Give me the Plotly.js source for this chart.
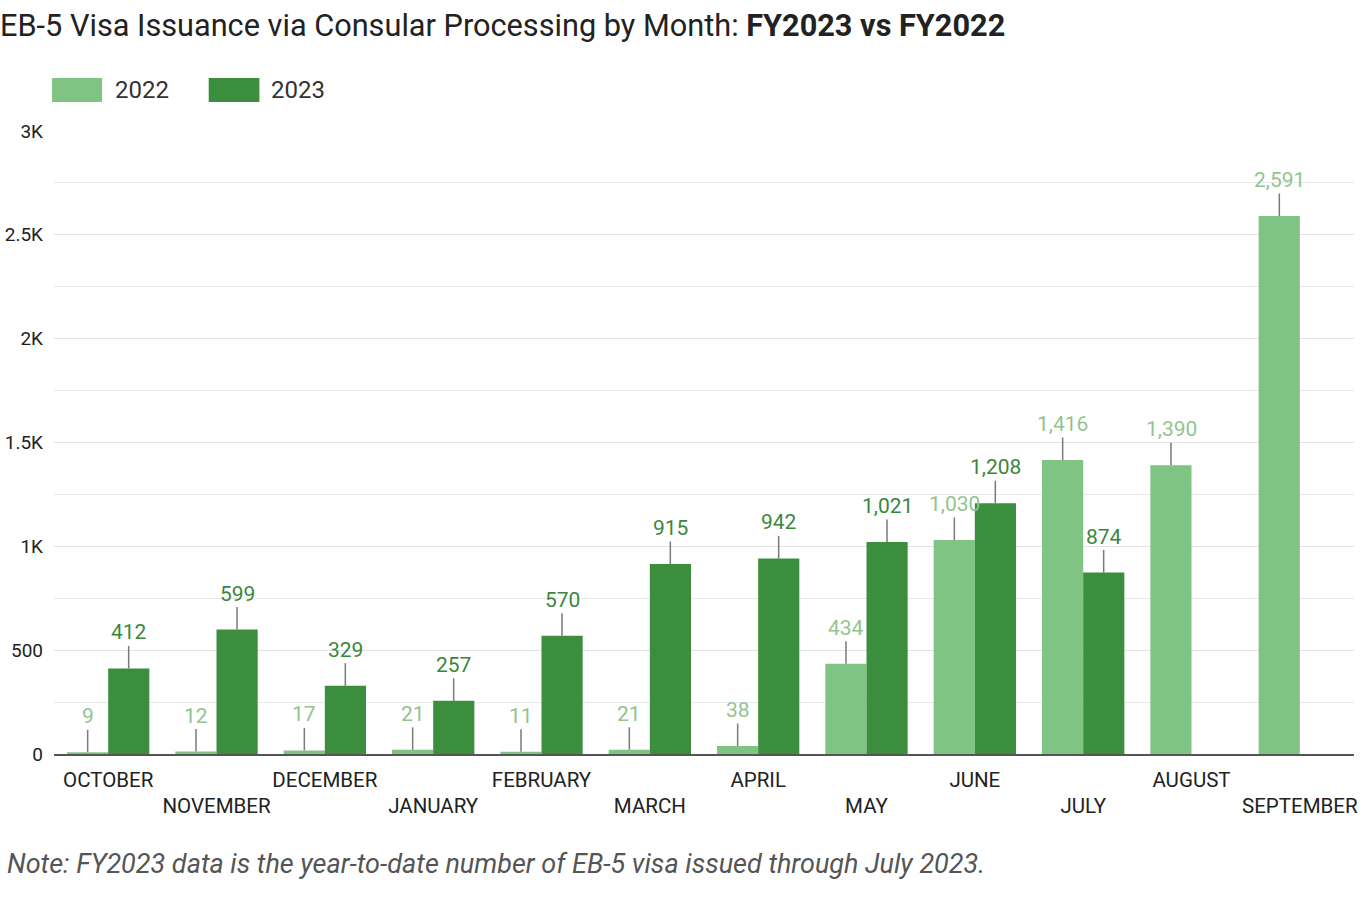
<!DOCTYPE html>
<html>
<head>
<meta charset="utf-8">
<script src="https://cdn.plot.ly/plotly-3.0.1.min.js"></script>
<style>
html,body{margin:0;padding:0;background:#fff;}
#chart{width:1366px;height:900px;}
</style>
</head>
<body>
<div id="chart"></div>
<script>
const months = ["OCTOBER","NOVEMBER","DECEMBER","JANUARY","FEBRUARY","MARCH","APRIL","MAY","JUNE","JULY","AUGUST","SEPTEMBER"];
const fy2022 = [9, 12, 17, 21, 11, 21, 38, 434, 1030, 1416, 1390, 2591];
const fy2023 = [412, 599, 329, 257, 570, 915, 942, 1021, 1208, 874, null, null];
const yTickVals = [0, 500, 1000, 1500, 2000, 2500, 3000];
const yTickText = ["0", "500", "1K", "1.5K", "2K", "2.5K", "3K"];
const seriesNames = ["2022", "2023"];

const c22 = "#80c483";
const c23 = "#3b8e3d";
const lab22 = "#93c48f";
const lab23 = "#3a873c";

const tickText = months.map((m, i) => i % 2 === 1 ? "<br>" + m : m);

const traces = [
  {type: "bar", name: seriesNames[0], x: months, y: fy2022, marker: {color: c22}, showlegend: false, hoverinfo: "x+y"},
  {type: "bar", name: seriesNames[1], x: months, y: fy2023, marker: {color: c23}, showlegend: false, hoverinfo: "x+y"}
];

const fmt = v => v.toLocaleString("en-US");
const annotations = [];
const half = 20.5;
months.forEach((m, i) => {
  [[fy2022, -half, lab22], [fy2023, half, lab23]].forEach(([arr, sh, col]) => {
    const v = arr[i];
    if (v === null || v === undefined) return;
    annotations.push({
      x: m, y: v, xref: "x", yref: "y", xshift: sh,
      text: fmt(v), showarrow: true, arrowhead: 0, arrowwidth: 1.5, arrowcolor: "#7a7a7a",
      ax: 0, ay: -36, standoff: 0, startstandoff: 0,
      font: {family: "Roboto, sans-serif", size: 21, color: col}
    });
  });
});

// legend labels
annotations.push({xref: "paper", yref: "paper", x: 0.045, y: 1.066, xanchor: "left", yanchor: "middle", showarrow: false,
  text: seriesNames[0], font: {family: "Roboto, sans-serif", size: 24, color: "#333"}});
annotations.push({xref: "paper", yref: "paper", x: 0.165, y: 1.066, xanchor: "left", yanchor: "middle", showarrow: false,
  text: seriesNames[1], font: {family: "Roboto, sans-serif", size: 24, color: "#333"}});
// note
annotations.push({xref: "paper", yref: "paper", x: -0.038, y: -0.177, xanchor: "left", yanchor: "middle", showarrow: false,
  text: "<i>Note: FY2023 data is the year-to-date number of EB-5 visa issued through July 2023.</i>",
  font: {family: "Roboto, sans-serif", size: 27, color: "#555"}});

const shapes = [
  {type: "rect", xref: "paper", yref: "paper", x0: -0.0015, x1: 0.037, y0: 1.0466, y1: 1.085, fillcolor: c22, line: {width: 0}},
  {type: "rect", xref: "paper", yref: "paper", x0: 0.119, x1: 0.158, y0: 1.0466, y1: 1.085, fillcolor: c23, line: {width: 0}}
];

const layout = {
  width: 1366, height: 900,
  margin: {l: 54, r: 12, t: 131, b: 146},
  paper_bgcolor: "#fff", plot_bgcolor: "#fff",
  title: {
    text: "EB-5 Visa Issuance via Consular Processing by Month: <b>FY2023 vs FY2022</b>",
    x: 0, xref: "container", xanchor: "left", y: 0.972, yanchor: "middle",
    pad: {l: 0},
    font: {family: "Roboto, sans-serif", size: 30.7, color: "#222"}
  },
  barmode: "group", bargap: 0.24, bargroupgap: 0,
  xaxis: {
    tickmode: "array", tickvals: months, ticktext: tickText, tickangle: 0,
    tickfont: {family: "Roboto, sans-serif", size: 20.5, color: "#222"},
    showgrid: false, showline: true, linecolor: "#555", linewidth: 2, ticks: "",
    ticklabelstandoff: 6,
    fixedrange: true
  },
  yaxis: {
    range: [0, 3000], tickmode: "array", tickvals: yTickVals, ticktext: yTickText,
    tickfont: {family: "Roboto, sans-serif", size: 19, color: "#222"},
    showgrid: true, gridcolor: "#e3e3e3", gridwidth: 1, zeroline: false,
    minor: {tickmode: "linear", dtick: 250, showgrid: true, gridcolor: "#e8e8e8", gridwidth: 1},
    ticks: "", ticklabelstandoff: 10, fixedrange: true
  },
  annotations: annotations,
  shapes: shapes,
  showlegend: false
};

Plotly.newPlot("chart", traces, layout, {displayModeBar: false, staticPlot: true});
</script>
</body>
</html>
